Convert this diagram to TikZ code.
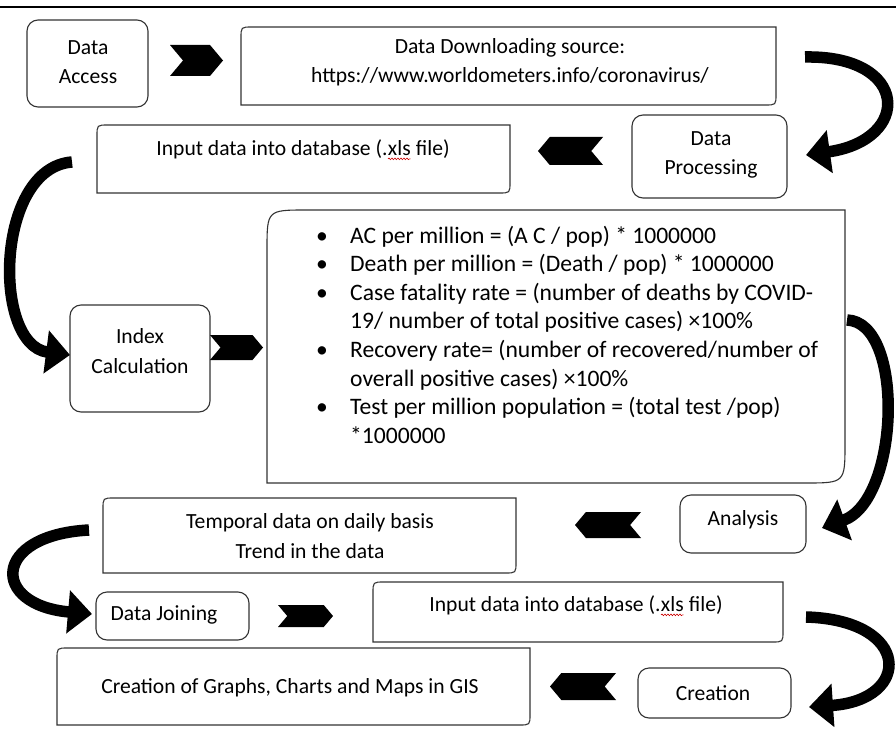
\documentclass[tikz,border=0pt]{standalone}
\usepackage{fontspec}
\setmainfont{Carlito}
\usetikzlibrary{shapes.symbols,arrows.meta,calc,decorations.pathmorphing}
\newcommand\fs{\fontsize{21.6}{29.5}\selectfont}
\newcommand\ffs{\fontsize{23.6}{28.6}\selectfont}
\newcommand\wavy[1]{\tikz[baseline=(w.base),x=1pt,y=1pt]{\node[inner sep=0pt,outer sep=0pt](w){#1};
  \draw[red!80!black,line width=0.6pt,decorate,decoration={snake,amplitude=0.8pt,segment length=3pt}] ([yshift=-3pt]w.base west) -- ([yshift=-3pt]w.base east);}}
\tikzset{
  rbox/.style={draw=black!80, line width=1.1pt, rounded corners=11pt, inner sep=0pt},
  frame/.style={inner sep=0pt, outer sep=0pt},
  outline/.style={draw=black!80, line width=1.1pt},
  txt/.style={align=center, inner sep=0pt, font=\fs},
  chevR/.style={signal, signal from=west, signal to=east, fill=black, draw=none, inner sep=0pt, signal pointer angle=100},
  chevL/.style={signal, signal from=east, signal to=west, fill=black, draw=none, inner sep=0pt, signal pointer angle=100},
  carrow/.style={line width=11.5pt, -{Triangle[length=24pt,width=42pt]}},
  bul/.style={inner sep=0pt, anchor=base, font=\ffs},
  fline/.style={inner sep=0pt, anchor=base west, font=\ffs},
}
\newcommand\diagoutline[2]{%
  \draw[outline] (#1.south west) -- ($(#1.north west)+(0,#2)$) .. controls (#1.north west) .. ($(#1.north west)+(#2,0)$)
   -- (#1.north east) -- ($(#1.south east)+(0,-#2)$) .. controls (#1.south east) .. ($(#1.south east)+(-#2,0)$) -- cycle;}
\begin{document}
\begin{tikzpicture}[x=1pt,y=-1pt]
\useasboundingbox[fill=white] (0,0) rectangle (896,730);
\draw[line width=1.8pt] (0,7) -- (896,7);

% boxes with all corners rounded
\node[rbox, minimum width=121pt, minimum height=87pt] (access) at (87.5,63.5) {};
\node[rbox, minimum width=155pt, minimum height=83pt] (dp) at (709.5,156.5) {};
\node[rbox, minimum width=140pt, minimum height=107pt] (idx) at (140,358.5) {};
\node[rbox, minimum width=126pt, minimum height=58pt] (ana) at (743,524) {};
\node[rbox, minimum width=153pt, minimum height=48pt] (join) at (172.5,616) {};
\node[rbox, minimum width=153pt, minimum height=50pt] (cre) at (714.5,693) {};

% boxes with diagonal rounded corners
\node[frame, minimum width=535pt, minimum height=78pt] (dl) at (508.5,66) {};
\node[frame, minimum width=413pt, minimum height=68pt] (in1) at (303.5,159) {};
\node[frame, minimum width=578pt, minimum height=273pt] (fbox) at (556,346.5) {};
\node[frame, minimum width=413pt, minimum height=75pt] (tmp) at (309.5,535.5) {};
\node[frame, minimum width=410pt, minimum height=60pt] (in2) at (578,612) {};
\node[frame, minimum width=473pt, minimum height=77pt] (gis) at (293.5,686.5) {};
\diagoutline{dl}{11}
\diagoutline{in1}{11}
\diagoutline{fbox}{40}
\diagoutline{tmp}{11}
\diagoutline{in2}{11}
\diagoutline{gis}{11}

% texts
\node[txt] (taccess) at (88,62) {Data\\Access};
\node[txt] (tdl) at (510,62) {Data Downloading source:\\https://www.worldometers.info/coronavirus/};
\node[txt] (tdp) at (711,155) {Data\\Processing};
\node[txt] (tin1) at (303,150) {Input data into database (.\wavy{xls} file)};
\node[txt] (tidx) at (140,351) {Index\\Calculation};
\node[txt] (tana) at (743,520) {Analysis};
\node[txt] (ttmp) at (310,536) {Temporal data on daily basis\\Trend in the data};
\node[txt] (tjoin) at (164,615) {Data Joining};
\node[txt] (tin2) at (576,606) {Input data into database (.\wavy{xls} file)};
\node[txt] (tcre) at (713,693) {Creation};
\node[txt] (tgis) at (290,688) {Creation of Graphs, Charts and Maps in GIS};

% formula list
\node[bul] (b1) at (322,243) {\textbullet};
\node[fline] (f1) at (350,243) {AC per million = (A C / pop) * 1000000};
\node[bul] (b2) at (322,271.6) {\textbullet};
\node[fline] (f2) at (350,271.6) {Death per million = (Death / pop) * 1000000};
\node[bul] (b3) at (322,300.2) {\textbullet};
\node[fline] (f3) at (350,300.2) {Case fatality rate = (number of deaths by COVID-};
\node[fline] (f4) at (350,328.8) {19/ number of total positive cases) ×100\%};
\node[bul] (b5) at (322,357.4) {\textbullet};
\node[fline] (f5) at (350,357.4) {Recovery rate= (number of recovered/number of};
\node[fline] (f6) at (350,386) {overall positive cases) ×100\%};
\node[bul] (b7) at (322,414.6) {\textbullet};
\node[fline] (f7) at (350,414.6) {Test per million population = (total test /pop)};
\node[fline] (f8) at (350,443.2) {*1000000};

% chevrons
\node[chevR, minimum width=53pt, minimum height=31pt] (c1) at (196.5,60.5) {};
\node[chevL, minimum width=65pt, minimum height=28pt] (c2) at (570.5,151) {};
\node[chevR, minimum width=53pt, minimum height=25pt] (c3) at (236.5,347.5) {};
\node[chevL, minimum width=66pt, minimum height=26pt] (c4) at (608,525) {};
\node[chevR, minimum width=55pt, minimum height=22pt] (c5) at (305.5,616) {};
\node[chevL, minimum width=66pt, minimum height=27pt] (c6) at (583,686.5) {};

% curved arrows
\coordinate (s1) at (805,57);   \coordinate (e1) at (806,155);
\coordinate (s2) at (72,162);   \coordinate (e2) at (70,355);
\coordinate (s3) at (847,320);  \coordinate (e3) at (822,528);
\coordinate (s4) at (89,530);   \coordinate (e4) at (92,614);
\coordinate (s5) at (806,617);  \coordinate (e5) at (809,707);
\draw[carrow] (s1) .. controls (910,55) and (912,140) .. (e1);
\draw[carrow] (s2) .. controls (-5,168) and (-8,345) .. (e2);
\draw[carrow] (s3) .. controls (905,322) and (900,500) .. (e3);
\draw[carrow] (s4) .. controls (-8,535) and (-10,605) .. (e4);
\draw[carrow] (s5) .. controls (912,620) and (912,700) .. (e5);
\end{tikzpicture}
\end{document}
